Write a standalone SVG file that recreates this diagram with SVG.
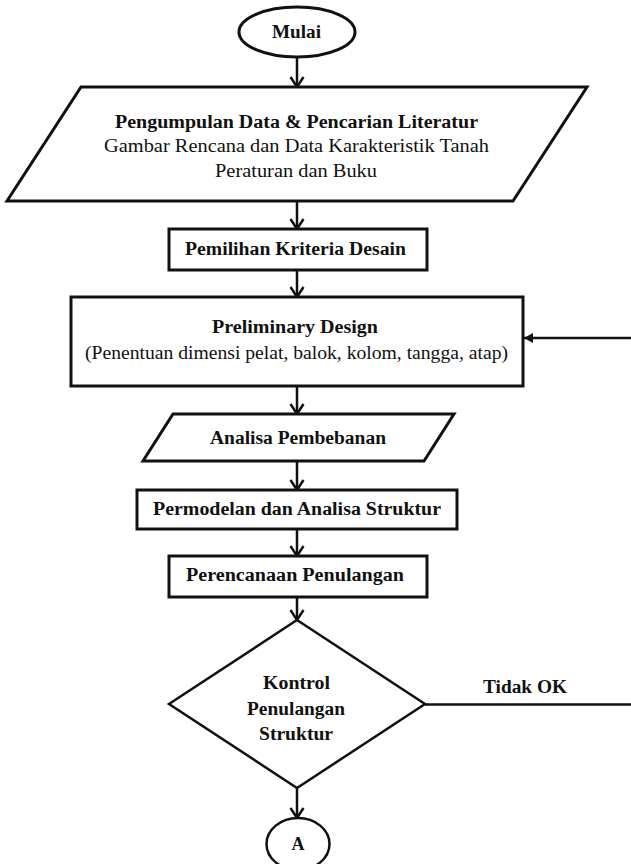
<svg xmlns="http://www.w3.org/2000/svg" width="631" height="864" viewBox="0 0 631 864">
  <style>
    .shape { fill: #ffffff; stroke: #111111; stroke-width: 3; stroke-linejoin: miter; }
    .thin { fill: #ffffff; stroke: #111111; stroke-width: 2.5; }
    .wire { fill: none; stroke: #111111; stroke-width: 2.5; }
    text { font-family: "Liberation Serif", "Times New Roman", serif; fill: #111111; text-anchor: middle; }
    .b { font-weight: bold; font-size: 18px; }
    .r { font-weight: normal; font-size: 18px; }
  </style>
  <defs>
    <marker id="vee" markerUnits="userSpaceOnUse" markerWidth="16" markerHeight="18" viewBox="-2 -9 14 18" refX="10" refY="0" orient="auto" overflow="visible">
      <path d="M0,-6.5 L10,0 L0,6.5" fill="none" stroke="#111111" stroke-width="2.5"/>
    </marker>
    <marker id="tri" markerUnits="userSpaceOnUse" markerWidth="10" markerHeight="12" viewBox="0 -6 9 12" refX="9" refY="0" orient="auto" overflow="visible">
      <path d="M0,-5 L9,0 L0,5 Z" fill="#111111"/>
    </marker>
  </defs>

  <g id="connectors">
    <line class="wire" x1="297" y1="57" x2="297" y2="87" marker-end="url(#vee)"/>
    <line class="wire" x1="297" y1="201" x2="297" y2="229" marker-end="url(#vee)"/>
    <line class="wire" x1="297" y1="270" x2="297" y2="297" marker-end="url(#vee)"/>
    <line class="wire" x1="297" y1="386" x2="297" y2="414" marker-end="url(#vee)"/>
    <line class="wire" x1="297" y1="461" x2="297" y2="490" marker-end="url(#vee)"/>
    <line class="wire" x1="297" y1="529" x2="297" y2="556" marker-end="url(#vee)"/>
    <line class="wire" x1="297" y1="597" x2="297" y2="620" marker-end="url(#vee)"/>
    <line class="wire" x1="297" y1="788" x2="297" y2="818" marker-end="url(#vee)"/>
    <line class="wire" x1="425" y1="704.5" x2="631" y2="704.5"/>
    <line class="wire" x1="631" y1="338" x2="524" y2="338" marker-end="url(#tri)"/>
    <text class="b" x="525" y="693" textLength="84" lengthAdjust="spacingAndGlyphs">Tidak OK</text>
  </g>

  <g id="mulai">
    <ellipse class="shape" cx="297" cy="32" rx="58" ry="25"/>
    <text class="b" x="296.5" y="38" textLength="49" lengthAdjust="spacingAndGlyphs">Mulai</text>
  </g>

  <g id="pengumpulan-data">
    <polygon class="shape" points="81,87 587,87 513,201 7,201"/>
    <text class="b" x="296.5" y="128" textLength="363" lengthAdjust="spacingAndGlyphs">Pengumpulan Data &amp; Pencarian Literatur</text>
    <text class="r" x="296.5" y="152" textLength="385" lengthAdjust="spacingAndGlyphs">Gambar Rencana dan Data Karakteristik Tanah</text>
    <text class="r" x="296" y="177" textLength="162" lengthAdjust="spacingAndGlyphs">Peraturan dan Buku</text>
  </g>

  <g id="pemilihan-kriteria">
    <rect class="shape" x="169" y="229" width="258" height="41"/>
    <text class="b" x="295.5" y="255" textLength="221" lengthAdjust="spacingAndGlyphs">Pemilihan Kriteria Desain</text>
  </g>

  <g id="preliminary-design">
    <rect class="shape" x="71" y="297" width="452" height="89"/>
    <text class="b" x="295" y="333" textLength="166" lengthAdjust="spacingAndGlyphs">Preliminary Design</text>
    <text class="r" x="296.5" y="359" textLength="423" lengthAdjust="spacingAndGlyphs">(Penentuan dimensi pelat, balok, kolom, tangga, atap)</text>
  </g>

  <g id="analisa-pembebanan">
    <polygon class="shape" points="173,414 454,414 424,461 143,461"/>
    <text class="b" x="298" y="444" textLength="176" lengthAdjust="spacingAndGlyphs">Analisa Pembebanan</text>
  </g>

  <g id="permodelan">
    <rect class="shape" x="137" y="490" width="320" height="39"/>
    <text class="b" x="297" y="515" textLength="288" lengthAdjust="spacingAndGlyphs">Permodelan dan Analisa Struktur</text>
  </g>

  <g id="perencanaan-penulangan">
    <rect class="shape" x="169" y="556" width="258" height="41"/>
    <text class="b" x="295" y="581" textLength="218" lengthAdjust="spacingAndGlyphs">Perencanaan Penulangan</text>
  </g>

  <g id="kontrol-penulangan">
    <polygon class="thin" points="297,620 425,704 297,788 169,704"/>
    <text class="b" x="296.5" y="689" textLength="67" lengthAdjust="spacingAndGlyphs">Kontrol</text>
    <text class="b" x="296" y="715" textLength="98" lengthAdjust="spacingAndGlyphs">Penulangan</text>
    <text class="b" x="296" y="740" textLength="74" lengthAdjust="spacingAndGlyphs">Struktur</text>
  </g>

  <g id="konektor-a">
    <ellipse class="thin" cx="298" cy="844" rx="31.5" ry="26"/>
    <text class="b" x="298" y="850">A</text>
  </g>
</svg>
